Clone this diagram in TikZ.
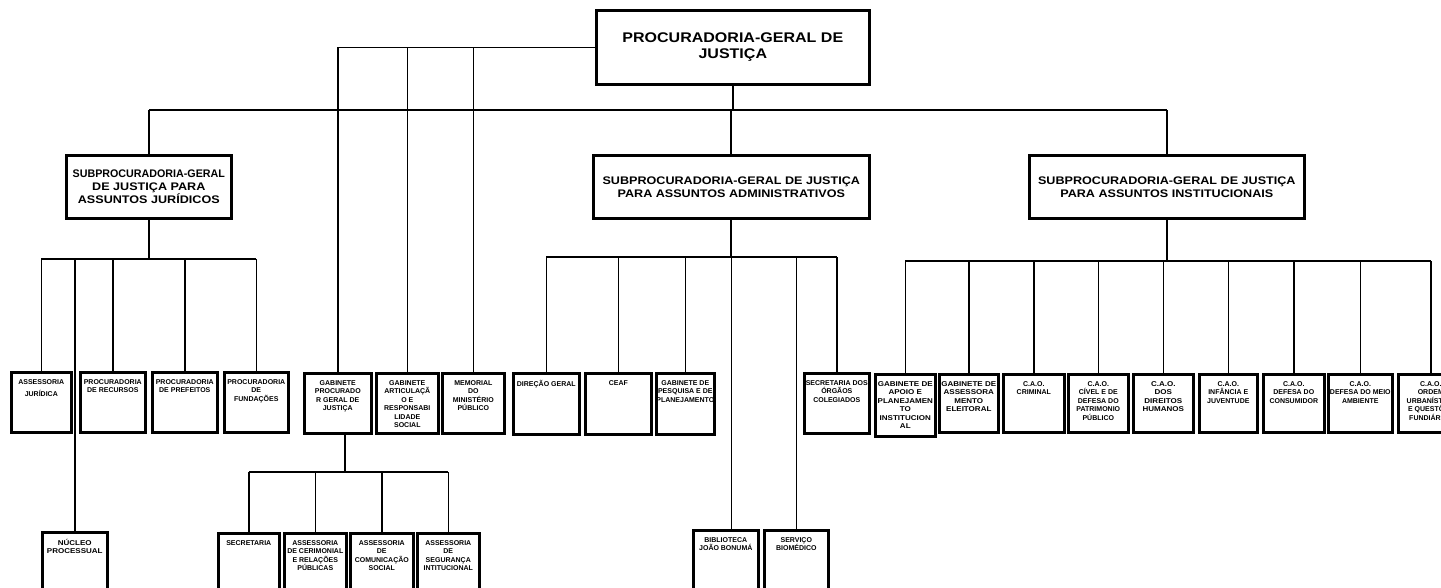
\documentclass[tikz,border=0pt]{standalone}
\usepackage{graphicx}
\usepackage{fontspec}
\setmainfont{Liberation Sans}
\newfontfamily\widef{Liberation Sans}[FakeStretch=1.145]
\tikzset{
  bx/.style={draw, line width=2.6pt, inner sep=0pt, anchor=north west},
  lbl/.style={font=\fontsize{7}{8.5}\selectfont\bfseries, align=center, inner sep=0pt, anchor=north, yshift=-8pt},
  wlbl/.style={lbl, font=\widef\fontsize{7}{8.5}\selectfont\bfseries},
  big/.style={bx, font=\widef\fontsize{14}{16}\selectfont\bfseries, align=center},
  sub/.style={bx, font=\widef\fontsize{11}{13}\selectfont\bfseries, align=center},
  lk/.style={line width=1.5pt},
  lkh/.style={line width=2pt},
  lkb/.style={line width=2.6pt},
}
\newcommand\orgbox[7][lbl]{%
  \node[bx, minimum width={(#5-#3)*1pt}, minimum height={(#6-#4)*1pt},
        label={[#1]north:{#7}}] (#2) at (#3,#4) {};}
\begin{document}
\begin{tikzpicture}[x=1pt,y=-1pt]
\useasboundingbox (0,0) rectangle (1441,587);
\clip (0,0) rectangle (1441,587);
% level 0 and 1
\node[big, minimum width=273pt, minimum height=74pt] (T) at (595,9) {PROCURADORIA-GERAL DE\\JUSTIÇA};
\node[sub, minimum width=165pt, minimum height=63pt] (SJ) at (65,154)
  {\scalebox{0.85}[1]{SUBPROCURADORIA-GERAL}\\DE JUSTIÇA PARA\\ASSUNTOS JURÍDICOS};
\node[sub, minimum width=276pt, minimum height=63pt] (SA) at (592,154)
  {SUBPROCURADORIA-GERAL DE JUSTIÇA\\PARA ASSUNTOS ADMINISTRATIVOS};
\node[sub, minimum width=275pt, minimum height=63pt] (SI) at (1028,154)
  {SUBPROCURADORIA-GERAL DE JUSTIÇA\\PARA ASSUNTOS INSTITUCIONAIS};
% juridicos
\orgbox{AJ}{10}{371}{70}{431}{ASSESSORIA\\[3.5pt]JURÍDICA}
\orgbox{PR}{79}{371}{144}{431}{PROCURADORIA\\DE RECURSOS}
\orgbox{PP}{151}{371}{216}{431}{PROCURADORIA\\DE PREFEITOS}
\orgbox{PF}{223}{371}{287}{431}{PROCURADORIA\\DE\\FUNDAÇÕES}
\orgbox[wlbl]{NP}{41}{531}{106}{610}{NÚCLEO\\PROCESSUAL}
% gabinetes
\orgbox{GP}{303}{372}{370}{432}{GABINETE\\PROCURADO\\R GERAL DE\\JUSTIÇA}
\orgbox{GA}{375}{372}{437}{432}{GABINETE\\ARTICULAÇÃ\\O E\\RESPONSABI\\LIDADE\\SOCIAL}
\orgbox{MM}{441}{372}{503}{432}{MEMORIAL\\DO\\MINISTÉRIO\\PÚBLICO}
\orgbox{SEC}{217}{532}{278}{610}{SECRETARIA}
\orgbox{ACR}{283}{532}{345}{610}{ASSESSORIA\\DE CERIMONIAL\\E RELAÇÕES\\PÚBLICAS}
\orgbox{ACS}{349}{532}{412}{610}{ASSESSORIA\\DE\\COMUNICAÇÃO\\SOCIAL}
\orgbox{ASI}{416}{532}{478}{610}{ASSESSORIA\\DE\\SEGURANÇA\\INTITUCIONAL}
% administrativos
\orgbox{DG}{512}{372}{578}{433}{DIREÇÃO GERAL}
\orgbox{CEAF}{584}{372}{650}{433}{CEAF}
\orgbox{GPP}{655}{372}{713}{433}{GABINETE DE\\PESQUISA E DE\\PLANEJAMENTO}
\orgbox{SOC}{803}{372}{868}{432}{SECRETARIA DOS\\ÓRGÃOS\\COLEGIADOS}
\orgbox{BIB}{692}{529}{757}{610}{BIBLIOTECA\\JOÃO BONUMÁ}
\orgbox{SB}{763}{529}{827}{610}{SERVIÇO\\BIOMÉDICO}
% institucionais
\orgbox[wlbl]{GAP}{874}{373}{934}{435}{GABINETE DE\\APOIO E\\PLANEJAMEN\\TO\\INSTITUCION\\AL}
\orgbox[wlbl]{GAE}{938}{373}{997}{431}{GABINETE DE\\ASSESSORA\\MENTO\\ELEITORAL}
\orgbox{CR}{1002}{373}{1063}{431}{C.A.O.\\CRIMINAL}
\orgbox{CV}{1067}{373}{1127}{431}{C.A.O.\\CÍVEL E DE\\DEFESA DO\\PATRIMONIO\\PÚBLICO}
\orgbox[wlbl]{DH}{1132}{373}{1192}{431}{C.A.O.\\DOS\\DIREITOS\\HUMANOS}
\orgbox{IJ}{1198}{373}{1256}{431}{C.A.O.\\INFÂNCIA E\\JUVENTUDE}
\orgbox{DC}{1262}{373}{1323}{431}{C.A.O.\\DEFESA DO\\CONSUMIDOR}
\orgbox{MA}{1327}{373}{1391}{431}{C.A.O.\\DEFESA DO MEIO\\AMBIENTE}
\orgbox{OU}{1397}{373}{1462}{431}{C.A.O.\\ORDEM\\URBANÍSTICA\\E QUESTÕES\\FUNDIÁRIAS}
% connectors level 1
\coordinate (L1) at (0,110);
\draw[lkb] (T.south) -- (T.south |- L1);
\draw[lkb] (SJ.north |- L1) -- (SI.north |- L1);
\draw[lkh] (SJ.north |- L1) -- (SJ.north);
\draw[lkh] (SA.north |- L1) -- (SA.north);
\draw[lkh] (SI.north |- L1) -- (SI.north);
% gabinetes from top
\draw[lk] (T.west) -- (GP.north |- T.west);
\foreach \n in {GP,GA,MM} \draw[lk] (\n.north |- T.west) -- (\n.north);
% juridicos
\coordinate (L2j) at (0,259);
\draw[lkh] (SJ.south) -- (SJ.south |- L2j);
\draw[lkh] (AJ.north |- L2j) -- (PF.north |- L2j);
\foreach \n in {AJ,PR,PP,PF,NP} \draw[lk] (\n.north |- L2j) -- (\n.north);
% administrativos
\coordinate (L2a) at (0,257);
\draw[lkh] (SA.south) -- (SA.south |- L2a);
\draw[lkh] (DG.north |- L2a) -- (SOC.north |- L2a);
\foreach \n in {DG,CEAF,GPP,SOC,SB} \draw[lk] (\n.north |- L2a) -- (\n.north);
\draw[lk] (SA.south |- L2a) -- (SA.south |- BIB.north);
% institucionais
\coordinate (L2i) at (0,261);
\draw[lkh] (SI.south) -- (SI.south |- L2i);
\draw[lkh] (GAP.north |- L2i) -- (OU.north |- L2i);
\foreach \n in {GAP,GAE,CR,CV,DH,IJ,DC,MA,OU} \draw[lk] (\n.north |- L2i) -- (\n.north);
% gabinete procurador children
\coordinate (L3) at (0,472);
\coordinate (gpd) at ([xshift=7pt]GP.south);
\draw[lk] (gpd) -- (gpd |- L3);
\draw[lkh] (SEC.north |- L3) -- (ASI.north |- L3);
\foreach \n in {SEC,ACR,ACS,ASI} \draw[lk] (\n.north |- L3) -- (\n.north);
\end{tikzpicture}
\end{document}
